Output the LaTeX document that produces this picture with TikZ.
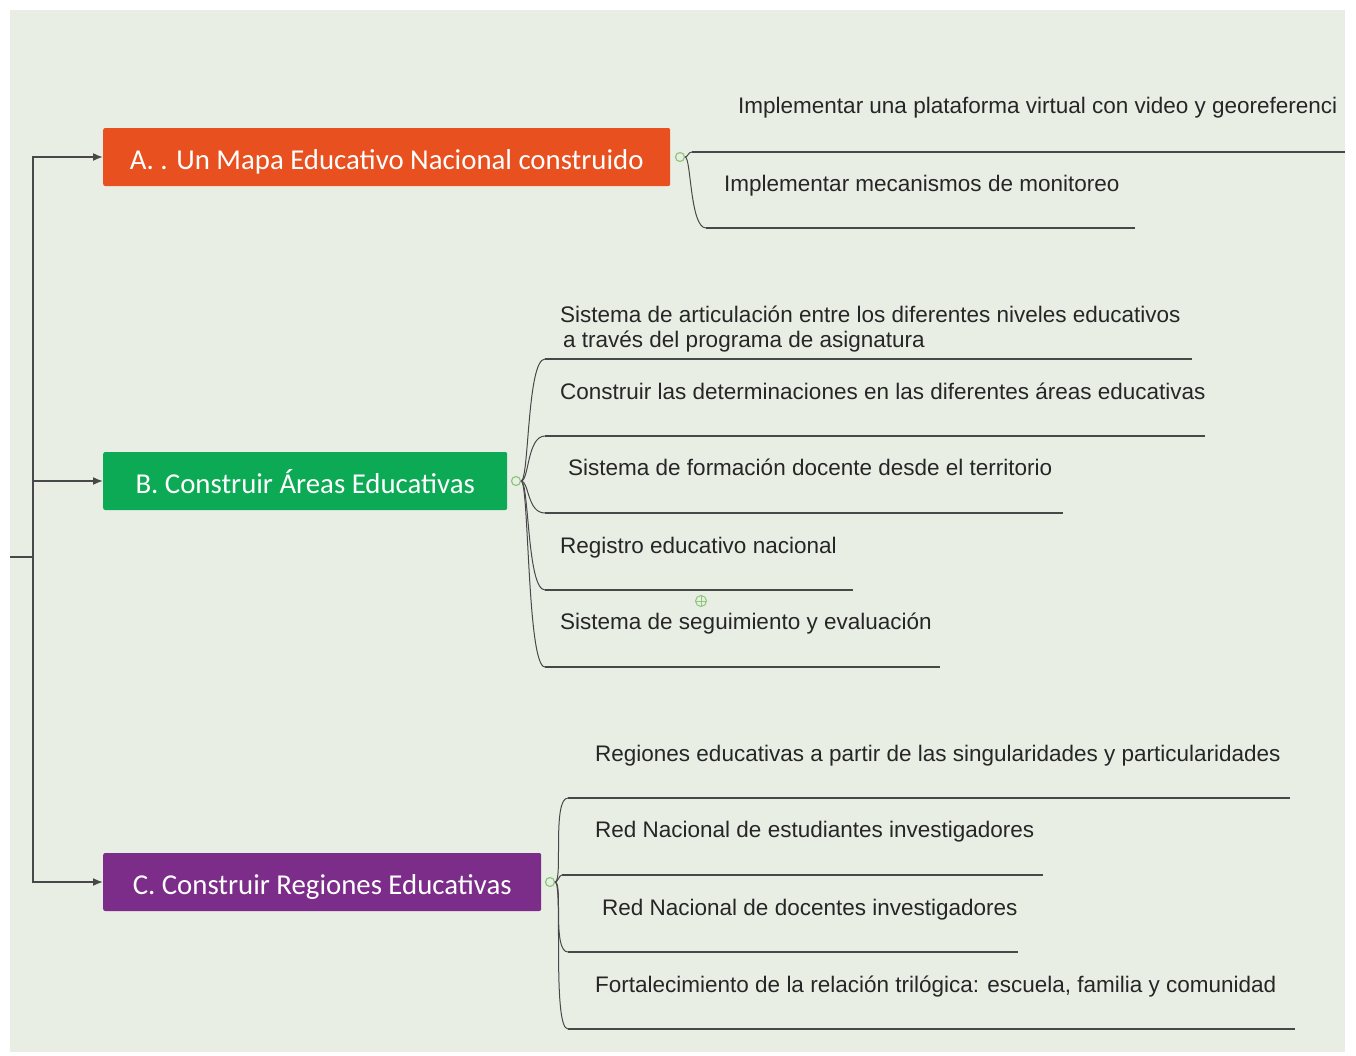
\documentclass[tikz,border=0pt]{standalone}
\usepackage{fontspec}
\setmainfont{Liberation Sans}
\newfontfamily\boxfont{Carlito}
\usetikzlibrary{arrows.meta,positioning}

\definecolor{paper}{RGB}{233,238,229}
\definecolor{mapred}{RGB}{232,80,31}
\definecolor{mapgreen}{RGB}{12,170,84}
\definecolor{mappurple}{RGB}{124,45,138}
\definecolor{knob}{RGB}{140,200,120}
\definecolor{wire}{RGB}{72,72,72}

\begin{document}
\begin{tikzpicture}[x=1pt,y=-1pt]
	  \tikzstyle{topic}=[rectangle,rounded corners=2pt,minimum height=58pt,
				  text=white,font=\boxfont\fontsize{28.8}{30}\selectfont,inner sep=0pt,
				  text height=24pt,text depth=0pt]
	  \tikzstyle{item}=[anchor=base west,inner sep=0pt,text=black!85,
				  font=\fontsize{22.5}{26}\selectfont,align=left]
	  \tikzstyle{knobc}=[circle,draw=knob,fill=paper,line width=1.2pt,minimum size=9pt,inner sep=0pt]
	  \tikzstyle{under}=[draw=wire,line width=1.1pt]
	  \tikzstyle{branch}=[draw=wire,line width=1pt]
	  \tikzstyle{feed}=[draw=wire,line width=1.6pt,-{Latex[length=10pt,width=8pt]}]

	\useasboundingbox (0,0) rectangle (1356,1055);
	\fill[white] (0,0) rectangle (1356,1055);
	\begin{scope}
	\clip (10,10) rectangle (1345,1052);
	\fill[paper] (10,10) rectangle (1345,1052);

	% trunk
	\coordinate (root) at (10,557);
	\coordinate (trunk) at (33,557);
	\draw[wire,line width=1.6pt] (root) -- (trunk);

	\node (mapa)[topic,fill=mapred,minimum width=567pt,anchor=west] at (103,157) {A. . Un Mapa Educativo Nacional construido};
	\node (areas)[topic,fill=mapgreen,minimum width=404pt,anchor=west] at (103,481) {B. Construir Áreas Educativas};
	\node (regiones)[topic,fill=mappurple,minimum width=438pt,anchor=west] at (103,882) {C. Construir Regiones Educativas};

	\draw[feed] (trunk) |- (mapa);
	\draw[feed] (trunk) |- (areas);
	\draw[feed] (trunk) |- (regiones);

	\node (ak)[knobc] at (680,157) {};
	\node (bk)[knobc] at (516,481) {};
	\node (ck)[knobc] at (550,882) {};

	% A
	\node (a1)[item] at (738,113) {Implementar una plataforma virtual con video y georeferenci};
	\node (a2)[item] at (724,191) {Implementar mecanismos de monitoreo};
	\coordinate (a1s) at (692,152); \coordinate (a1e) at (1345,152);
	\coordinate (a2s) at (706,228); \coordinate (a2e) at (1135,228);
	\draw[under] (a1s) -- (a1e);
	\draw[under] (a2s) -- (a2e);
	\draw[branch] (ak.east) .. controls +(3,0) and +(-4,0) .. (a1s);
	\draw[branch] (ak.east) .. controls +(6,0) and +(-16,0) .. (a2s);

	% B
	\node (b1)[item] at (560,347) {Sistema de articulación entre los diferentes niveles educativos\\[-1pt]\hspace{3pt}a través del programa de asignatura};
	\node (b2)[item] at (560,399) {Construir las determinaciones en las diferentes áreas educativas};
	\node (b3)[item] at (568,475) {Sistema de formación docente desde el territorio};
	\node (b4)[item] at (560,553) {Registro educativo nacional};
	\node (b5)[item] at (560,629) {Sistema de seguimiento y evaluación};
	\coordinate (b1s) at (545,359); \coordinate (b1e) at (1192,359);
	\coordinate (b2s) at (545,436); \coordinate (b2e) at (1205,436);
	\coordinate (b3s) at (545,513); \coordinate (b3e) at (1063,513);
	\coordinate (b4s) at (545,590); \coordinate (b4e) at (853,590);
	\coordinate (b5s) at (545,667); \coordinate (b5e) at (940,667);
	\draw[under] (b1s) -- (b1e);
	\draw[under] (b2s) -- (b2e);
	\draw[under] (b3s) -- (b3e);
	\draw[under] (b4s) -- (b4e);
	\draw[under] (b5s) -- (b5e);
	\draw[branch] (bk.east) .. controls +(8,0) and +(-18,0) .. (b1s);
	\draw[branch] (bk.east) .. controls +(8,0) and +(-18,0) .. (b2s);
	\draw[branch] (bk.east) .. controls +(8,0) and +(-18,0) .. (b3s);
	\draw[branch] (bk.east) .. controls +(8,0) and +(-18,0) .. (b4s);
	\draw[branch] (bk.east) .. controls +(8,0) and +(-18,0) .. (b5s);
	\node (fold)[circle,draw=knob,line width=1pt,minimum size=11pt,inner sep=0pt] at (701,601) {};
	\draw[knob,line width=1pt] (fold.north) -- (fold.south) (fold.west) -- (fold.east);

	% C
	\node (c1)[item] at (595,761) {Regiones educativas a partir de las singularidades y particularidades};
	\node (c2)[item] at (595,837) {Red Nacional de estudiantes investigadores};
	\node (c3)[item] at (602,915) {Red Nacional de docentes investigadores};
	\node (c4)[item] at (595,992) {Fortalecimiento de la relación trilógica: escuela, familia y comunidad};
	\coordinate (c1s) at (568,798); \coordinate (c1e) at (1290,798);
	\coordinate (c2s) at (562,875); \coordinate (c2e) at (1043,875);
	\coordinate (c3s) at (568,952); \coordinate (c3e) at (1018,952);
	\coordinate (c4s) at (568,1029); \coordinate (c4e) at (1295,1029);
	\draw[under] (c1s) -- (c1e);
	\draw[under] (c2s) -- (c2e);
	\draw[under] (c3s) -- (c3e);
	\draw[under] (c4s) -- (c4e);
	\draw[branch] (ck.east) .. controls +(8,0) and +(-16,0) .. (c1s);
	\draw[branch] (ck.east) .. controls +(3,0) and +(-3,0) .. (c2s);
	\draw[branch] (ck.east) .. controls +(8,0) and +(-16,0) .. (c3s);
	\draw[branch] (ck.east) .. controls +(8,0) and +(-16,0) .. (c4s);
	\end{scope}
\end{tikzpicture}
\end{document}
